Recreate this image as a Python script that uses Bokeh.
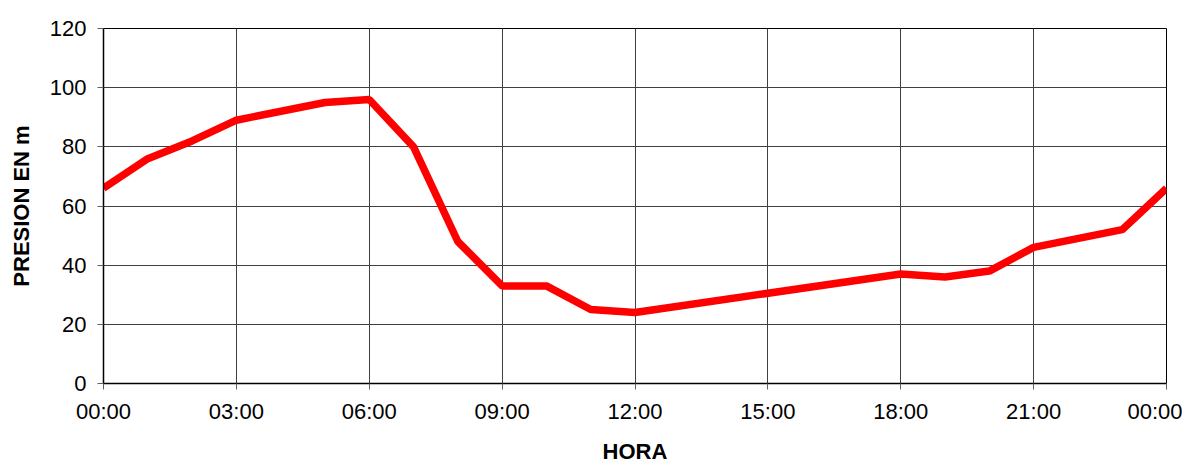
from bokeh.plotting import figure
from bokeh.models import FixedTicker, Range1d
from bokeh.embed import file_html
from bokeh.resources import INLINE

hours = [0, 1, 2, 3, 5, 6, 7, 8, 9, 10, 11, 12, 18, 19, 20, 21, 23, 24]
pressure = [66, 76, 82, 89, 95, 96, 80, 48, 33, 33, 25, 24, 37, 36, 38, 46, 52, 66]
x_ticks = [0, 3, 6, 9, 12, 15, 18, 21, 24]
x_tick_labels = ["00:00", "03:00", "06:00", "09:00", "12:00", "15:00", "18:00", "21:00", "00:00"]
y_ticks = [0, 20, 40, 60, 80, 100, 120]
x_title = "HORA"
y_title = "PRESION EN m"

p = figure(width=1182, height=466, output_backend="svg", toolbar_location=None,
           x_range=Range1d(0, 24), y_range=Range1d(0, 120),
           min_border_left=103, min_border_right=16, min_border_top=28, min_border_bottom=83)

p.line(hours, pressure, line_color="#FF0000", line_width=7.5)

font = "Liberation Sans"
p.xaxis.ticker = FixedTicker(ticks=x_ticks)
p.xaxis.major_label_overrides = {t: l for t, l in zip(x_ticks, x_tick_labels)}
p.yaxis.ticker = FixedTicker(ticks=y_ticks)

for ax in (p.xaxis, p.yaxis):
    ax.major_label_text_font = font
    ax.major_label_text_font_size = "22px"
    ax.major_label_text_color = "#000000"
    ax.axis_label_text_font = font
    ax.axis_label_text_font_size = "22px"
    ax.axis_label_text_font_style = "bold"
    ax.axis_label_text_color = "#000000"
    ax.axis_line_color = "#000000"
    ax.axis_line_width = 1.5
    ax.major_tick_line_color = "#606060"
    ax.major_tick_out = 6
    ax.major_tick_in = 0
    ax.minor_tick_line_color = None

p.xaxis.axis_label = x_title
p.yaxis.axis_label = y_title
p.xaxis.major_label_standoff = 9
p.yaxis.major_label_standoff = 11
p.xaxis.axis_label_standoff = 12
p.yaxis.axis_label_standoff = 13

p.grid.grid_line_color = "#404040"
p.grid.grid_line_width = 1
p.grid.grid_line_alpha = 1.0
p.outline_line_color = "#000000"
p.outline_line_width = 1
p.background_fill_color = "white"
p.border_fill_color = "white"

open("out.html", "w").write(file_html(p, INLINE))
